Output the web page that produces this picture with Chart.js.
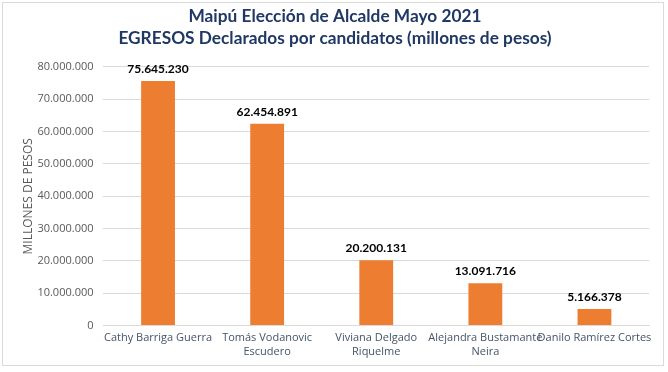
<!DOCTYPE html>
<html>
<head>
<meta charset="utf-8">
<script src="https://cdn.jsdelivr.net/npm/chart.js@4/dist/chart.umd.min.js"></script>
<style>
html,body{margin:0;padding:0;background:#fff;}
#wrap{position:absolute;left:2px;top:2px;width:662px;height:364px;border:1px solid #d9d9d9;box-sizing:border-box;background:#fff;}
#c{position:absolute;left:0;top:0;}
</style>
</head>
<body>
<div id="wrap"><canvas id="c" width="660" height="362"></canvas></div>
<script>
const categories = [
  "Cathy Barriga Guerra",
  ["Tomás Vodanovic", "Escudero"],
  ["Viviana Delgado", "Riquelme"],
  ["Alejandra Bustamante", "Neira"],
  "Danilo Ramírez Cortes"
];
const egresos = [75645230, 62454891, 20200131, 13091716, 5166378];
const titleLines = ["Maipú Elección de Alcalde Mayo 2021", "EGRESOS Declarados por candidatos (millones de pesos)"];
const yAxisTitle = "MILLONES DE PESOS";

function fmt(v){ return String(Math.round(v)).replace(/\B(?=(\d{3})+(?!\d))/g, "."); }

const labelPlugin = {
  id: 'valueLabels',
  afterDatasetsDraw(chart){
    const ctx = chart.ctx;
    const meta = chart.getDatasetMeta(0);
    ctx.save();
    ctx.font = "bold 12px Lato, 'Open Sans', sans-serif";
    ctx.fillStyle = "#000";
    ctx.textAlign = "center";
    ctx.textBaseline = "bottom";
    meta.data.forEach((bar, i) => {
      ctx.fillText(fmt(egresos[i]), bar.x, bar.y - 6);
    });
    ctx.restore();
  }
};

new Chart(document.getElementById('c'), {
  type: 'bar',
  data: {
    labels: categories,
    datasets: [{
      data: egresos,
      backgroundColor: '#ED7D31',
      borderWidth: 0,
      categoryPercentage: 1,
      barPercentage: 0.31
    }]
  },
  options: {
    responsive: false,
    animation: false,
    devicePixelRatio: 1,
    layout: { padding: { left: 18, right: 14, top: 0, bottom: 1 } },
    plugins: {
      legend: { display: false },
      tooltip: { enabled: false },
      title: {
        display: true,
        text: titleLines,
        color: '#1F3864',
        font: { family: "Lato, 'Open Sans', sans-serif", size: 17.3, weight: 'bold', lineHeight: 1.3 },
        padding: { top: 2, bottom: 17 }
      }
    },
    scales: {
      x: {
        grid: { display: false, drawTicks: false },
        border: { color: '#d9d9d9' },
        ticks: {
          color: '#44546A',
          font: { family: "'Open Sans', sans-serif", size: 11 },
          maxRotation: 0, autoSkip: false, padding: 6
        }
      },
      y: {
        min: 0, max: 80000000,
        grid: { color: '#d9d9d9', drawTicks: false },
        border: { display: false },
        ticks: {
          stepSize: 10000000,
          color: '#595959',
          font: { family: "'Open Sans', sans-serif", size: 11 },
          padding: 10,
          callback: v => fmt(v)
        },
        title: {
          display: true,
          text: yAxisTitle,
          color: '#595959',
          font: { family: "'Open Sans', sans-serif", size: 12 },
          padding: { top: 0, bottom: -8 }
        }
      }
    }
  },
  plugins: [labelPlugin]
});
</script>
</body>
</html>
